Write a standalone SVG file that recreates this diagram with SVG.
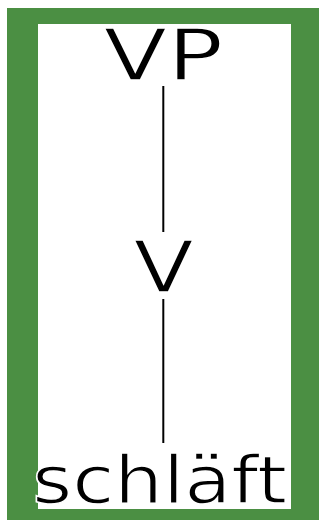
<svg xmlns="http://www.w3.org/2000/svg" width="322" height="520" viewBox="0 0 322 520">
<style>
.lbl{font-family:"DejaVu Sans",sans-serif;fill:#000;text-anchor:middle;stroke:#fff;stroke-width:1.4}
.edge{stroke:#000;stroke-width:2;fill:none}
</style>
<rect x="0" y="0" width="322" height="520" fill="#fff"/>
<rect id="frame" x="7" y="8" width="312" height="512" fill="#4b8f43"/>
<rect x="38" y="24" width="253" height="485" fill="#fff"/>
<g id="connectors">
<line class="edge" x1="163.3" y1="86" x2="163.3" y2="232"/>
<line class="edge" x1="163.3" y1="299" x2="163.3" y2="443"/>
</g>
<g id="node-VP"><text class="lbl" font-size="71" transform="translate(163.4,80) scale(1.31,1)">VP</text></g>
<g id="node-V"><text class="lbl" font-size="71" transform="translate(163.5,292) scale(1.24,1)">V</text></g>
<g id="node-schlaeft"><text class="lbl" font-size="65" transform="translate(159.6,503) scale(1.18,1)">schläft</text></g>
</svg>
